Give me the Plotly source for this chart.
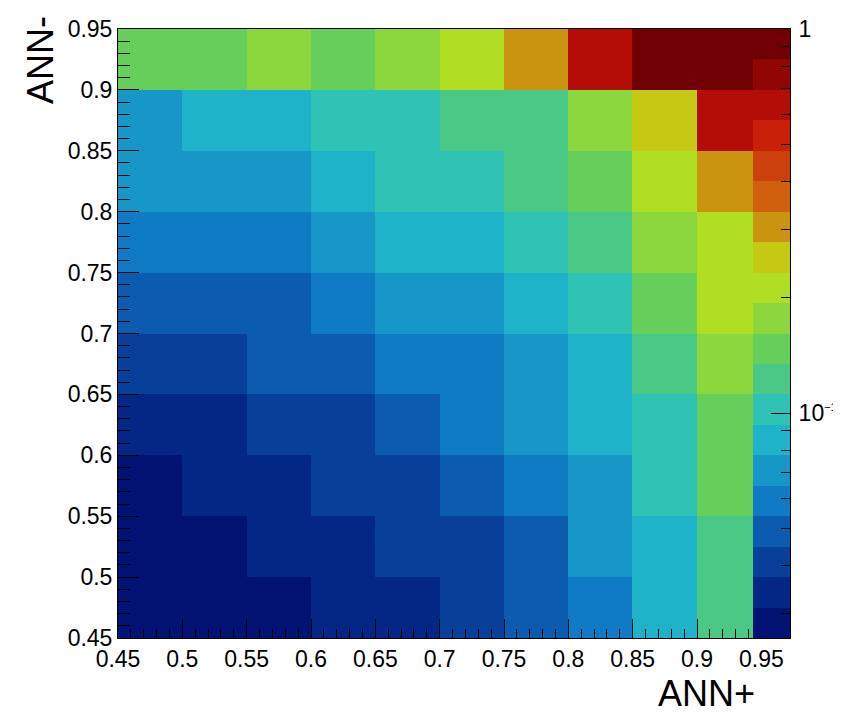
import numpy as np
import plotly.graph_objects as go

# ---------------- data ----------------
x_edges = [0.45, 0.50, 0.55, 0.60, 0.65, 0.70, 0.75, 0.80, 0.85, 0.90, 0.95]   # ANN+
y_edges = [0.45, 0.50, 0.55, 0.60, 0.65, 0.70, 0.75, 0.80, 0.85, 0.90, 0.95]   # ANN-

# cell contents, one list per ANN- bin (low edge in the name), columns = ANN+ bins
row_045 = [0.028, 0.028, 0.028, 0.034, 0.034, 0.041, 0.049, 0.059, 0.085, 0.123]
row_050 = [0.028, 0.028, 0.034, 0.034, 0.041, 0.041, 0.049, 0.071, 0.085, 0.123]
row_055 = [0.028, 0.034, 0.034, 0.041, 0.041, 0.049, 0.059, 0.071, 0.102, 0.147]
row_060 = [0.034, 0.034, 0.041, 0.041, 0.049, 0.059, 0.071, 0.085, 0.102, 0.147]
row_065 = [0.041, 0.041, 0.049, 0.049, 0.059, 0.059, 0.071, 0.085, 0.123, 0.177]
row_070 = [0.049, 0.049, 0.049, 0.059, 0.071, 0.071, 0.085, 0.102, 0.147, 0.212]
row_075 = [0.059, 0.059, 0.059, 0.071, 0.085, 0.085, 0.102, 0.123, 0.177, 0.212]
row_080 = [0.071, 0.071, 0.071, 0.085, 0.102, 0.102, 0.123, 0.147, 0.212, 0.305]
row_085 = [0.071, 0.085, 0.085, 0.102, 0.102, 0.123, 0.123, 0.177, 0.254, 0.634]
row_090 = [0.147, 0.147, 0.177, 0.147, 0.177, 0.212, 0.305, 0.634, 0.912, 0.912]

x_tick_vals = [0.45, 0.50, 0.55, 0.60, 0.65, 0.70, 0.75, 0.80, 0.85, 0.90, 0.95]
x_tick_text = ["0.45", "0.5", "0.55", "0.6", "0.65", "0.7", "0.75", "0.8", "0.85", "0.9", "0.95"]
y_tick_vals = x_tick_vals
y_tick_text = x_tick_text

z_min = 0.02595
z_max = 1.0
z_major_vals = [0.1, 1.0]
z_major_text = ["10<sup><span style='font-size:11px'>\u22121</span></sup>", "1"]
z_minor_vals = [0.03, 0.04, 0.05, 0.06, 0.07, 0.08, 0.09, 0.2, 0.3, 0.4, 0.5, 0.6, 0.7, 0.8, 0.9]

# ROOT kRainBow palette, 20 contour levels
band_colors = [
    "#021273", "#042685", "#073f99", "#0b5cae", "#0f7bc5", "#1797c7", "#1fb3c9",
    "#2fc3b5", "#4ac886", "#66ce5a", "#8cd63e", "#b0de23", "#c6c914", "#cb9410",
    "#d0600d", "#cc410b", "#c92009", "#b40d07", "#8f0604", "#6e0002",
]

# ---------------- build ----------------
nb = len(band_colors)
colorscale = []
for k, c in enumerate(band_colors):
    colorscale.append([k / nb, c])
    colorscale.append([(k + 1) / nb, c])

lo, hi = np.log10(z_min), np.log10(z_max)
z_rows = [row_045, row_050, row_055, row_060, row_065, row_070, row_075, row_080, row_085, row_090]
zlog = np.log10(np.array(z_rows))

band_edges = np.linspace(lo, hi, nb + 1)
band_mid = [[(band_edges[k] + band_edges[k + 1]) / 2] for k in range(nb)]

FONT = "Liberation Sans, Arial, Helvetica, sans-serif"
OFF = 8  # page body margin of the html document
W, H = 841, 713 - OFF
L, R, T, B = 118 - OFF, 790 - OFF, 29 - OFF, 638 - OFF

fig = go.Figure()
fig.add_trace(go.Heatmap(
    x=x_edges, y=y_edges, z=zlog, colorscale=colorscale, zmin=lo, zmax=hi,
    showscale=False, hoverinfo="skip", xaxis="x", yaxis="y"))
fig.add_trace(go.Heatmap(
    x=[0, 1], y=band_edges, z=band_mid, colorscale=colorscale, zmin=lo, zmax=hi,
    showscale=False, hoverinfo="skip", xaxis="x2", yaxis="y2"))

x_hi = 0.45 + (R - L) / ((697 - 118) / 0.45)
pal_left = (753 - 118) / (R - L)

tickfont = dict(family=FONT, size=23, color="black")
fig.update_layout(
    width=W, height=H,
    margin=dict(l=L, r=W - R, t=T, b=H - B, pad=0, autoexpand=False),
    paper_bgcolor="white", plot_bgcolor="rgba(0,0,0,0)",
    showlegend=False,
    xaxis=dict(domain=[0, 1], range=[0.45, x_hi], anchor="y", automargin=False,
               tickmode="array", tickvals=x_tick_vals, ticktext=x_tick_text,
               ticks="inside", ticklen=19, tickwidth=1, tickcolor="black",
               minor=dict(dtick=0.01, tick0=0.45, ticks="inside", ticklen=9,
                          tickwidth=1, tickcolor="black"),
               showline=True, mirror=True, linecolor="black", linewidth=1,
               showgrid=False, zeroline=False, tickfont=tickfont),
    yaxis=dict(domain=[0, 1], range=[0.45, 0.95], anchor="x", automargin=False,
               tickmode="array", tickvals=y_tick_vals, ticktext=y_tick_text,
               ticks="inside", ticklen=21, tickwidth=1, tickcolor="black",
               minor=dict(dtick=0.01, tick0=0.45, ticks="inside", ticklen=12,
                          tickwidth=1, tickcolor="black"),
               showline=True, mirror=True, linecolor="black", linewidth=1,
               showgrid=False, zeroline=False, tickfont=tickfont),
    xaxis2=dict(domain=[pal_left, 1], range=[0, 1], anchor="y2", visible=False,
                automargin=False),
    yaxis2=dict(domain=[0, 1], range=[lo, hi], anchor="x2", side="right", automargin=False,
                tickmode="array", tickvals=list(np.log10(z_major_vals)), ticktext=z_major_text,
                ticks="inside", ticklen=19, tickwidth=1, tickcolor="black",
                ticklabelstandoff=3,
                minor=dict(tickmode="array", tickvals=list(np.log10(z_minor_vals)),
                           ticks="inside", ticklen=9, tickwidth=1, tickcolor="black"),
                showline=True, linecolor="black", linewidth=1,
                showgrid=False, zeroline=False, tickfont=tickfont),
)

fig.add_annotation(text="ANN+", xref="paper", yref="paper",
                   x=(757 - 118) / (R - L), y=(638 - 693) / (B - T),
                   xanchor="right", yanchor="middle", showarrow=False,
                   font=dict(family=FONT, size=36, color="black"))
fig.add_annotation(text="ANN-", xref="paper", yref="paper",
                   x=(40 - 118) / (R - L), y=(638 - 60) / (B - T),
                   xanchor="center", yanchor="middle", textangle=-90, showarrow=False,
                   font=dict(family=FONT, size=36, color="black"))

fig.write_html("out.html")
